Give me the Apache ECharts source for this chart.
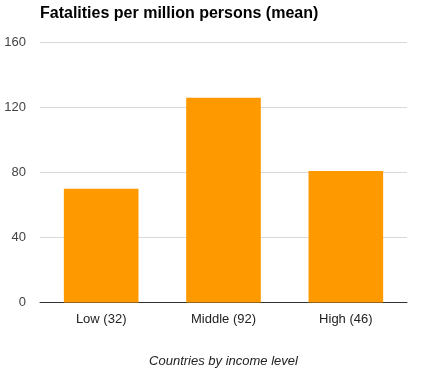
<!DOCTYPE html>
<html>
<head>
<meta charset="utf-8">
<script src="https://cdn.jsdelivr.net/npm/echarts@6/dist/echarts.min.js"></script>
<style>
html,body{margin:0;padding:0;background:#fff;}
#chart{width:426px;height:373px;}
</style>
</head>
<body>
<div id="chart"></div>
<script>
const categories = ["Low (32)", "Middle (92)", "High (46)"];
const values = [70, 126, 81];
const yTicks = [0, 40, 80, 120, 160];
const titleText = "Fatalities per million persons (mean)";
const xAxisTitle = "Countries by income level";

const chart = echarts.init(document.getElementById('chart'), null, {renderer: 'canvas'});
chart.setOption({
  animation: false,
  backgroundColor: '#ffffff',
  title: {
    text: titleText,
    left: 40,
    top: 6,
    padding: 0,
    textStyle: {
      fontFamily: 'Liberation Sans, Arial, sans-serif',
      fontSize: 16,
      fontWeight: 'bold',
      color: '#000'
    }
  },
  grid: {
    left: 40,
    right: 19,
    top: 42.5,
    bottom: 70.5,
    containLabel: false
  },
  xAxis: {
    type: 'category',
    data: categories,
    name: xAxisTitle,
    nameLocation: 'middle',
    nameGap: 52,
    nameTextStyle: {
      fontFamily: 'Liberation Sans, Arial, sans-serif',
      fontSize: 13,
      fontStyle: 'italic',
      color: '#222'
    },
    axisLine: {show: true, lineStyle: {color: '#333', width: 1}},
    axisTick: {show: false},
    axisLabel: {
      margin: 10,
      fontFamily: 'Liberation Sans, Arial, sans-serif',
      fontSize: 13,
      color: '#222'
    }
  },
  yAxis: {
    type: 'value',
    min: yTicks[0],
    max: yTicks[yTicks.length - 1],
    interval: 40,
    axisLine: {show: false},
    axisTick: {show: false},
    splitLine: {lineStyle: {color: '#d9d9d9', width: 1}},
    axisLabel: {
      margin: 14,
      fontFamily: 'Liberation Sans, Arial, sans-serif',
      fontSize: 13,
      color: '#444'
    }
  },
  series: [{
    type: 'bar',
    data: values,
    barWidth: '61%',
    itemStyle: {color: '#ff9900'}
  }]
});
</script>
</body>
</html>
